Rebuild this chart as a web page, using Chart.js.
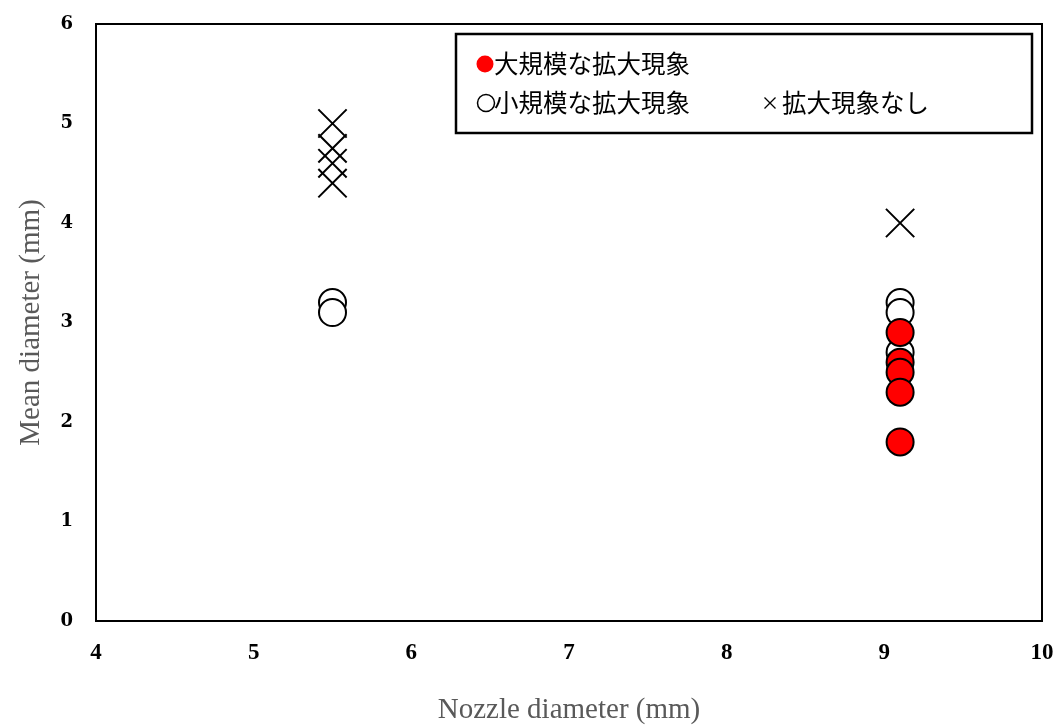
<!DOCTYPE html>
<html><head><meta charset="utf-8">
<script src="https://cdn.jsdelivr.net/npm/chart.js@4"></script>
<style>html,body{margin:0;padding:0;background:#fff}#wrap{width:1060px;height:728px}</style>
</head><body><div id="wrap"><canvas id="c" width="1060" height="728"></canvas></div>
<script>
// Data
const largeX = [9.1, 9.1, 9.1, 9.1, 9.1];
const largeY = [2.9, 2.6, 2.5, 2.3, 1.8];
const smallX = [5.5, 5.5, 9.1, 9.1, 9.1];
const smallY = [3.2, 3.1, 3.2, 3.1, 2.7];
const noneX = [5.5, 5.5, 5.5, 5.5, 9.1];
const noneY = [5.0, 4.75, 4.6, 4.4, 4.0];
const legendLarge = '大規模な拡大現象';
const legendSmall = '小規模な拡大現象';
const legendNone = '拡大現象なし';
const xTitle = 'Nozzle diameter (mm)';
const yTitle = 'Mean diameter (mm)';

const pts = (xs, ys) => xs.map((x, i) => ({x: x, y: ys[i]}));

const framePlugin = {
  id: 'frame',
  afterDraw(chart) {
    const {ctx, chartArea: a} = chart;
    ctx.save();
    ctx.strokeStyle = '#000';
    ctx.lineWidth = 2;
    ctx.strokeRect(a.left, a.top, a.right - a.left, a.bottom - a.top);
    // legend box
    const bx = a.left + 360, by = a.top + 10, bw = 576, bh = 99;
    ctx.fillStyle = '#fff';
    ctx.fillRect(bx, by, bw, bh);
    ctx.lineWidth = 2.5;
    ctx.strokeRect(bx, by, bw, bh);
    ctx.font = '24.5px "Noto Sans CJK JP"';
    ctx.textBaseline = 'middle';
    ctx.textAlign = 'left';
    // row 1
    ctx.fillStyle = '#ff0000';
    ctx.beginPath();
    ctx.arc(bx + 29, by + 30, 8.5, 0, Math.PI * 2);
    ctx.fill();
    ctx.fillStyle = '#000';
    ctx.fillText(legendLarge, bx + 38, by + 30);
    // row 2
    ctx.lineWidth = 1.5;
    ctx.beginPath();
    ctx.arc(bx + 30, by + 69, 8.5, 0, Math.PI * 2);
    ctx.stroke();
    ctx.fillText(legendSmall, bx + 38, by + 69);
    ctx.lineWidth = 1.3;
    ctx.beginPath();
    const cx = bx + 314, cy = by + 69, r = 5.5;
    ctx.moveTo(cx - r, cy - r); ctx.lineTo(cx + r, cy + r);
    ctx.moveTo(cx + r, cy - r); ctx.lineTo(cx - r, cy + r);
    ctx.stroke();
    ctx.fillText(legendNone, bx + 326, by + 69);
    ctx.restore();
  }
};

new Chart(document.getElementById('c'), {
  type: 'scatter',
  data: {
    datasets: [
      {label: legendLarge, data: pts(largeX, largeY), pointStyle: 'circle', pointRadius: 13.5,
       backgroundColor: '#ff0000', borderColor: '#000', borderWidth: 2},
      {label: legendSmall, data: pts(smallX, smallY), pointStyle: 'circle', pointRadius: 13.5,
       backgroundColor: '#fff', borderColor: '#000', borderWidth: 2},
      {label: legendNone, data: pts(noneX, noneY), pointStyle: 'crossRot', pointRadius: 20,
       backgroundColor: '#000', borderColor: '#000', borderWidth: 2}
    ]
  },
  options: {
    responsive: false,
    animation: false,
    events: [],
    layout: {autoPadding: false, padding: {top: 24, right: 18, left: 0, bottom: 0}},
    plugins: {legend: {display: false}, tooltip: {enabled: false}},
    scales: {
      x: {
        type: 'linear', min: 4, max: 10,
        afterFit(s) { s.height = 107; s.paddingLeft = 0; s.paddingRight = 0; },
        grid: {display: false, drawTicks: false},
        border: {display: false},
        ticks: {stepSize: 1, padding: 18, color: '#000',
                font: {family: '"Liberation Serif"', weight: 'bold', size: 23}},
        title: {display: true, text: xTitle, color: '#595959', padding: {top: 0, bottom: 0},
                font: {family: '"Liberation Serif"', size: 29}}
      },
      y: {
        type: 'linear', min: 0, max: 6,
        afterFit(s) { s.width = 96; s.paddingTop = 0; s.paddingBottom = 0; },
        grid: {display: false, drawTicks: false},
        border: {display: false},
        ticks: {stepSize: 1, padding: 23, color: '#000',
                font: {family: '"DejaVu Serif"', weight: 'bold', size: 18}},
        title: {display: true, text: yTitle, color: '#595959', padding: {top: 14, bottom: 0},
                font: {family: '"Liberation Serif"', size: 29}}
      }
    }
  },
  plugins: [framePlugin]
});
</script>
</body></html>
